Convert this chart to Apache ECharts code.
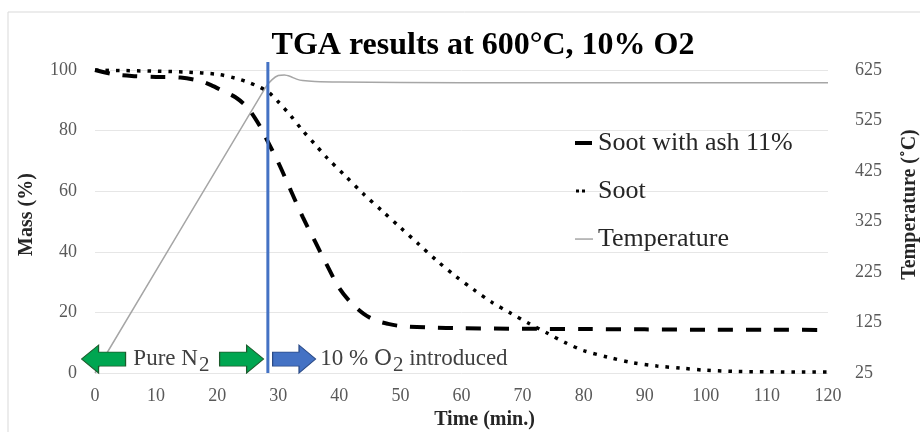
<!DOCTYPE html>
<html><head><meta charset="utf-8">
<script src="https://cdn.jsdelivr.net/npm/echarts@6/dist/echarts.min.js"></script>
<style>html,body{margin:0;padding:0;background:#fff}#c{width:920px;height:432px}</style>
</head><body><div id="c"></div>
<script>
// ---- data ----
const timeAsh = [0, 3, 6, 10, 14, 17, 19, 21, 23, 25, 27, 28, 30, 32, 34, 36, 38, 40, 42, 44, 46, 48, 50, 55, 60, 70, 80, 90, 100, 110, 120];
const massAsh = [100, 98.6, 98, 97.7, 97.5, 96.5, 95, 93, 91, 87.5, 81.5, 77.5, 69.5, 60.5, 51.5, 43.5, 35.5, 28, 23, 19.5, 17.3, 16.2, 15.5, 15, 14.8, 14.6, 14.5, 14.4, 14.3, 14.3, 14.2];
const timeSoot = [0, 5, 10, 15, 20, 23, 25, 27, 28.5, 30, 32, 34, 36, 38, 41, 44, 47, 50, 53, 56, 59, 62, 65, 68, 71, 74, 77, 80, 84, 88, 92, 96, 100, 105, 110, 115, 120];
const massSoot = [100, 99.8, 99.6, 99.3, 98.6, 97.3, 96, 94.3, 92.5, 89.5, 85, 80, 75.5, 71, 65, 59, 53.5, 48, 42.5, 37, 32, 27.5, 23.3, 19.8, 16.4, 13.2, 10, 7.4, 5.2, 3.4, 2.3, 1.6, 0.9, 0.5, 0.4, 0.3, 0.3];
const timeTemp = [0, 28, 29, 30, 31, 32, 33, 34, 36, 40, 60, 120];
const tempValues = [25, 592, 606, 614, 615, 612, 607, 604, 602, 601, 600, 600];
const seriesNames = ['Soot with ash 11%', 'Soot', 'Temperature'];
const o2Time = 28.3;            // time when O2 is introduced (blue line)
const o2LineTop = 102.6;        // mass units, line extends slightly above 100
const arrowTimes = [1.4, 24, 32.6];
const arrowMass = 4.6;
const labelTimes = [6.2, 36.8];

const pairs = (xs, ys) => xs.map((x, i) => [x, ys[i]]);
const serif = '"Liberation Serif", "Times New Roman", serif';
const rightArrow = 'path://M0,7 L27,7 L27,0 L44,14 L27,28 L27,21 L0,21 Z';
const leftArrow = 'path://M44,7 L17,7 L17,0 L0,14 L17,28 L17,21 L44,21 Z';
const green = { color: '#00a651', borderColor: '#1d5a2c', borderWidth: 1 };
const blue = { color: '#4472c4', borderColor: '#2a4a86', borderWidth: 1 };
const annRich = {
  a: { fontFamily: serif, fontSize: 23, color: '#404040' },
  o: { fontFamily: '"DejaVu Serif", serif', fontSize: 22, color: '#404040' },
  s: { fontFamily: serif, fontSize: 21, color: '#404040', padding: [12, 0, 0, 1] }
};
const hidden = { color: 'rgba(0,0,0,0)' };
const iconBox = 'M0,0 L0,0 M18,5 L18,5 ';

const chart = echarts.init(document.getElementById('c'), null, { renderer: 'canvas' });
chart.setOption({
  animation: false,
  backgroundColor: '#fff',
  title: {
    text: 'TGA results at 600°C, 10% O2',
    left: 478, top: 25, textAlign: 'center',
    textStyle: { fontFamily: serif, fontSize: 32, fontWeight: 'bold', color: '#000' }
  },
  graphic: [{
    type: 'rect', shape: { x: 8, y: 12, width: 930, height: 440 },
    style: { fill: 'none', stroke: '#d9d9d9', lineWidth: 1 }, silent: true
  }],
  legend: {
    data: [
      { name: seriesNames[0], icon: 'path://' + iconBox + 'M0,0.5 L17,0.5 L17,4.5 L0,4.5 Z' },
      { name: seriesNames[1], icon: 'path://' + iconBox + 'M1,1 L4,1 L4,4 L1,4 Z M7,1 L10,1 L10,4 L7,4 Z' },
      { name: seriesNames[2], icon: 'path://' + iconBox + 'M0,1.8 L18,1.8 L18,3.3 L0,3.3 Z' }
    ],
    orient: 'vertical', left: 570, top: 125, itemGap: 22,
    itemWidth: 18, itemHeight: 5,
    textStyle: { fontFamily: serif, fontSize: 26, color: '#262626' }
  },
  grid: { left: 95, right: 92, top: 70, bottom: 59, outerBoundsMode: 'none', containLabel: false },
  xAxis: {
    type: 'value', min: 0, max: 120, interval: 10,
    name: 'Time (min.)', nameLocation: 'middle', nameGap: 33,
    nameTextStyle: { fontFamily: serif, fontSize: 20, fontWeight: 'bold', color: '#262626', padding: [0, 0, 0, 46] },
    axisLine: { show: false }, axisTick: { show: false }, splitLine: { show: false },
    axisLabel: { fontFamily: serif, fontSize: 18, color: '#595959', margin: 14 }
  },
  yAxis: [{
    type: 'value', min: 0, max: 100, interval: 20,
    name: 'Mass (%)', nameLocation: 'middle', nameGap: 58,
    nameTextStyle: { fontFamily: serif, fontSize: 20, fontWeight: 'bold', color: '#262626', padding: [0, 0, 0, 14] },
    axisLine: { show: false }, axisTick: { show: false },
    splitLine: { lineStyle: { color: '#e6e6e6', width: 1 } },
    axisLabel: { fontFamily: serif, fontSize: 18, color: '#595959', margin: 18 }
  }, {
    type: 'value', min: 25, max: 625, interval: 100, position: 'right',
    name: 'Temperature (˚C)', nameLocation: 'middle', nameGap: 72,
    nameTextStyle: { fontFamily: serif, fontSize: 20, fontWeight: 'bold', color: '#262626', padding: [0, 0, 0, 34] },
    axisLine: { show: false }, axisTick: { show: false }, splitLine: { show: false },
    axisLabel: { fontFamily: serif, fontSize: 18, color: '#595959', margin: 27 }
  }],
  series: [{
    name: seriesNames[0], type: 'line', showSymbol: false, symbol: 'none',
    data: pairs(timeAsh, massAsh), smooth: 0.3,
    lineStyle: { color: '#000', width: 4, type: [15, 13] },
    itemStyle: { color: '#000' }, z: 3
  }, {
    name: seriesNames[1], type: 'line', showSymbol: false, symbol: 'none',
    data: pairs(timeSoot, massSoot), smooth: 0.3,
    lineStyle: { color: '#000', width: 3.5, type: [3.5, 7] },
    itemStyle: { color: '#000' }, z: 3,
    markPoint: {
      silent: true,
      data: [
        { coord: [arrowTimes[0], arrowMass], symbol: leftArrow, symbolSize: [44, 28], symbolKeepAspect: false, itemStyle: green, label: { show: false } },
        { coord: [arrowTimes[1], arrowMass], symbol: rightArrow, symbolSize: [44, 28], symbolKeepAspect: false, itemStyle: green, label: { show: false } },
        { coord: [arrowTimes[2], arrowMass], symbol: rightArrow, symbolSize: [43, 28], symbolKeepAspect: false, itemStyle: blue, label: { show: false } },
        { coord: [labelTimes[0], arrowMass], symbol: 'circle', symbolSize: 1, itemStyle: hidden,
          label: { show: true, position: 'right', distance: 0, formatter: '{a|Pure N}{s|2}', rich: annRich } },
        { coord: [labelTimes[1], arrowMass], symbol: 'circle', symbolSize: 1, itemStyle: hidden,
          label: { show: true, position: 'right', distance: 0, formatter: '{a|10 % }{o|O}{s|2}{a| introduced}', rich: annRich } }
      ]
    }
  }, {
    name: seriesNames[2], type: 'line', showSymbol: false, symbol: 'none', yAxisIndex: 1,
    data: pairs(timeTemp, tempValues), smooth: 0.2,
    lineStyle: { color: '#a6a6a6', width: 1.5 },
    itemStyle: { color: '#a6a6a6' }, z: 2
  }, {
    name: 'O2 introduced', type: 'custom', yAxisIndex: 0, z: 5,
    data: [[o2Time, 0, o2LineTop]],
    encode: { x: 0, y: [1, 2] },
    renderItem: function (params, api) {
      const p0 = api.coord([api.value(0), api.value(1)]);
      const p1 = api.coord([api.value(0), api.value(2)]);
      return { type: 'line', shape: { x1: p0[0], y1: p0[1], x2: p1[0], y2: p1[1] },
        style: { stroke: '#4472c4', lineWidth: 3 } };
    }
  }]
});
</script></body></html>
